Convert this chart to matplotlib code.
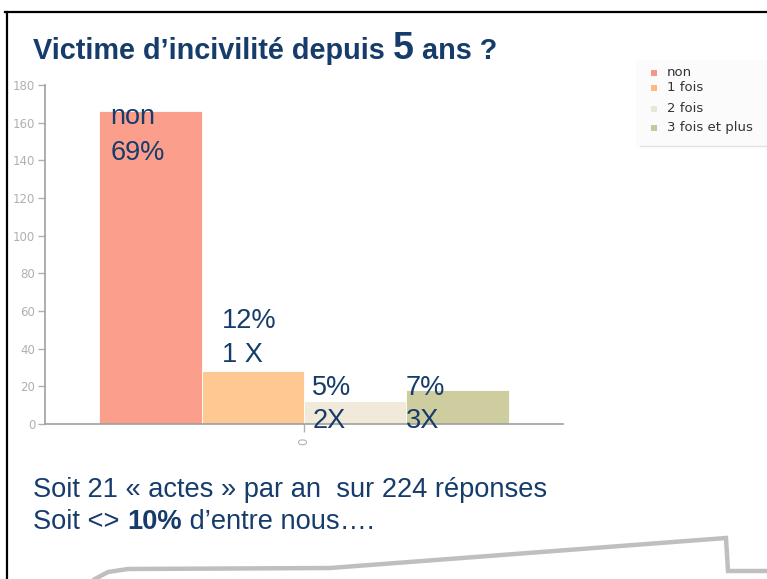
import matplotlib
matplotlib.use("Agg")
import matplotlib.pyplot as plt
from matplotlib.lines import Line2D
from matplotlib.patches import Rectangle

W, H = 767, 579

categories = ["non", "1 fois", "2 fois", "3 fois et plus"]
counts = [166, 28, 12, 18]
bar_colors = ["#FB9E8B", "#FDC891", "#F1EADB", "#CDCD9F"]
legend_colors = ["#F5968B", "#FDB97F", "#E9E6D4", "#C4C89B"]
pct_labels = ["69%", "12%", "5%", "7%"]
times_labels = ["non", "1 X", "2X", "3X"]
y_ticks = list(range(0, 181, 20))

navy = "#163C6B"
arial = ["Liberation Sans", "DejaVu Sans"]


def fx(px):
    return px / W


def fy(py):
    return 1 - py / H


fig = plt.figure(figsize=(W / 100, H / 100), dpi=100)
fig.patch.set_facecolor("white")

# frame of the slide
fig.add_artist(Line2D([fx(5), fx(767)], [fy(12), fy(12)], color="black", lw=1.6))
fig.add_artist(Line2D([fx(7), fx(7)], [fy(12), fy(579)], color="black", lw=1.6))

ax = fig.add_axes([fx(45), fy(424), fx(563) - fx(45), fy(85) - fy(424)])
x = list(range(len(categories)))
bars = ax.bar(x, counts, width=1.0, color=bar_colors, edgecolor="white", linewidth=0.6)
ax.set_xlim(-1.027, 4.027)
ax.set_ylim(0, 180)

for s in ["top", "right"]:
    ax.spines[s].set_visible(False)
for s in ["left", "bottom"]:
    ax.spines[s].set_color("#A0A0A0")
    ax.spines[s].set_linewidth(1.2)
ax.set_yticks(y_ticks)
ax.tick_params(axis="y", colors="#B0B0B0", length=5, width=1, labelsize=8.5, pad=2)
ax.set_xticks([1.5])
ax.set_xticklabels(["0"], rotation=90)
ax.tick_params(axis="x", colors="#B0B0B0", length=6, width=1, labelsize=8.5, pad=4)

# labels on the bars
txt_x = [-0.39, 0.70, 1.58, 2.49]
top_y = [159.5, 51.0, 15.4, 15.4]
bot_y = [140.2, 32.9, -2.1, -2.1]
for i in range(len(categories)):
    first = times_labels[i] if i == 0 else pct_labels[i]
    second = pct_labels[i] if i == 0 else times_labels[i]
    t1 = ax.text(txt_x[i], top_y[i], first, fontsize=19.5, color=navy,
                 family=arial, va="baseline", ha="left", clip_on=False)
    ax.text(txt_x[i], bot_y[i], second, fontsize=19.5, color=navy,
            family=arial, va="baseline", ha="left", clip_on=False)
    if i == 0:
        # the "non" label is cut by the top of its bar in the original
        t1.set_clip_path(bars[0])

# legend
fig.add_artist(Rectangle((fx(636), fy(146)), fx(767) - fx(636), fy(60) - fy(146),
                         facecolor="#FBFBFB", edgecolor="none"))
fig.add_artist(Line2D([fx(640), fx(767)], [fy(146), fy(146)], color="#E2E2E2", lw=1))
leg_y = [73, 88, 109, 128]
for c, lab, ly in zip(legend_colors, categories, leg_y):
    fig.add_artist(Rectangle((fx(651), fy(ly + 3)), fx(6), fy(0) - fy(6),
                             facecolor=c, edgecolor="none"))
    fig.text(fx(667), fy(ly), lab, fontsize=9.5, color="#333333",
             va="center", ha="left", family="DejaVu Sans")

# title with a bigger "5"
r = fig.canvas.get_renderer()
t = fig.text(fx(33), fy(59), "Victime d\u2019incivilit\u00e9 depuis ", fontsize=20.8,
             fontweight="bold", color=navy, family=arial, va="baseline")
bb = t.get_window_extent(renderer=r)
t = fig.text(bb.x1 / W, fy(59), "5", fontsize=27, fontweight="bold",
             color=navy, family=arial, va="baseline")
bb = t.get_window_extent(renderer=r)
fig.text(bb.x1 / W, fy(59), " ans ?", fontsize=20.8, fontweight="bold",
         color=navy, family=arial, va="baseline")

# comments under the chart
fig.text(fx(33), fy(497), "Soit 21 \u00ab actes \u00bb par an  sur 224 r\u00e9ponses",
         fontsize=19.6, color=navy, family=arial, va="baseline")
t = fig.text(fx(33), fy(529), "Soit <> ", fontsize=19.6, color=navy,
             family=arial, va="baseline")
bb = t.get_window_extent(renderer=r)
t = fig.text(bb.x1 / W, fy(529), "10%", fontsize=19.6, color=navy, fontweight="bold",
             family=arial, va="baseline")
bb = t.get_window_extent(renderer=r)
fig.text(bb.x1 / W, fy(529), " d\u2019entre nous\u2026.", fontsize=19.6, color=navy,
         family=arial, va="baseline")

# callout outline at the bottom
px = [95, 108, 128, 330, 726, 728, 767]
py = [579, 572, 569, 568, 538, 571, 571]
fig.add_artist(Line2D([fx(v) for v in px], [fy(v) for v in py],
                      color="#BFBFBF", lw=3.2, solid_joinstyle="miter"))

fig.savefig("out.png", dpi=100)
